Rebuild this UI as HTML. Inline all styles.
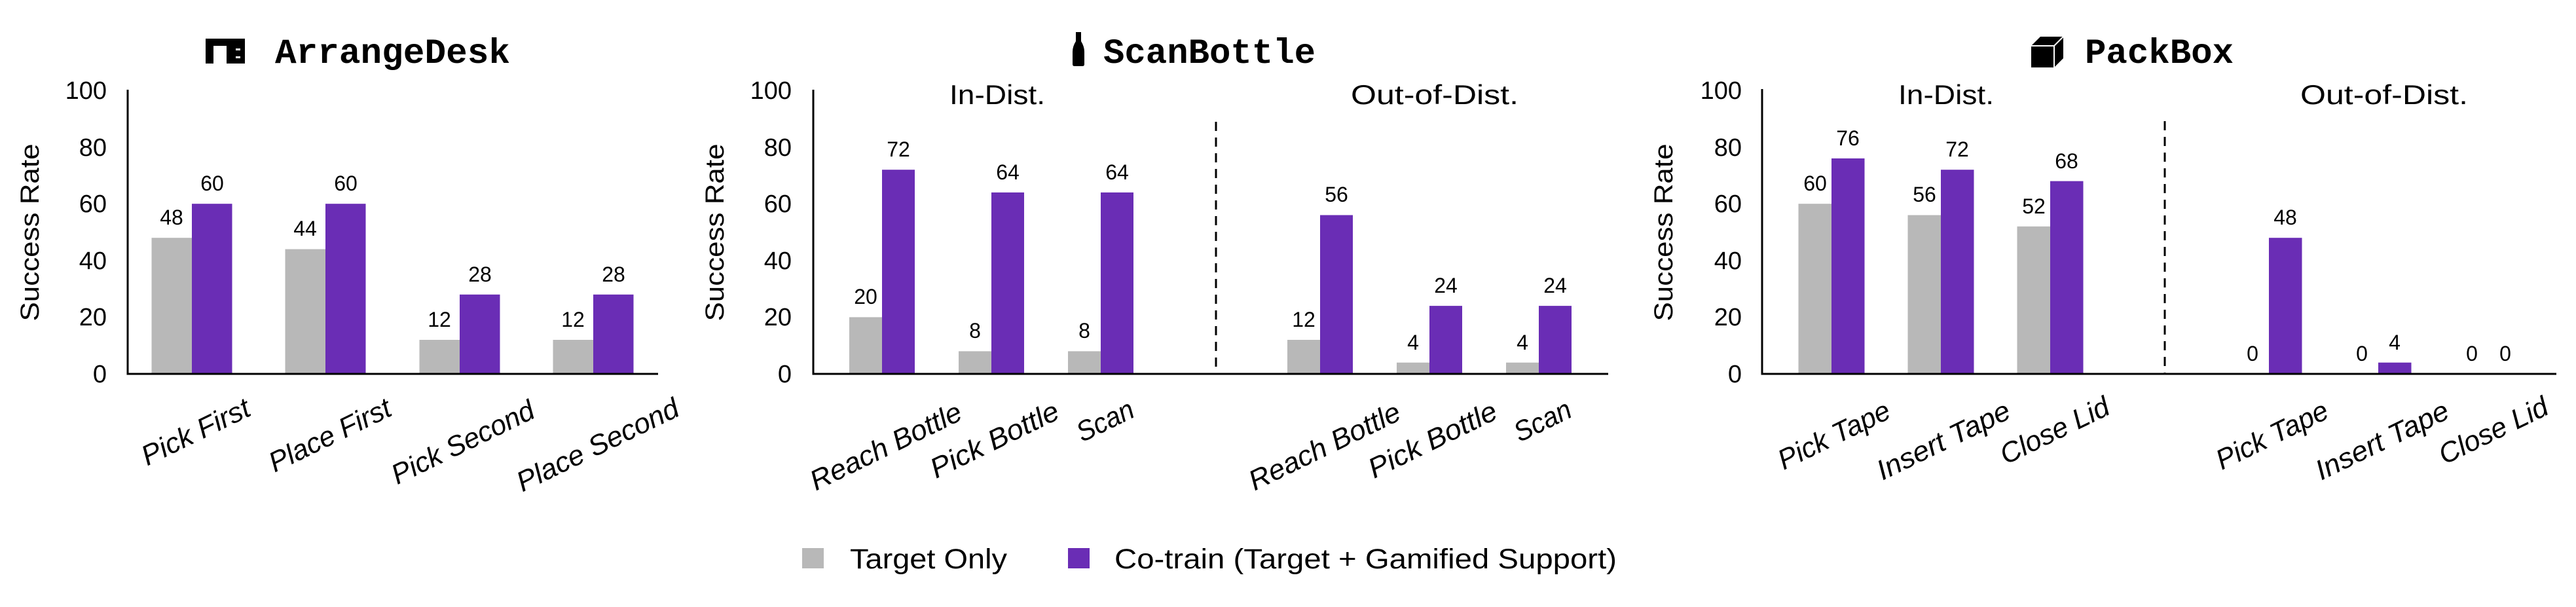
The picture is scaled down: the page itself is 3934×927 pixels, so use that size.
<!DOCTYPE html>
<html><head><meta charset="utf-8"><style>html,body{margin:0;padding:0;background:#fff}svg{display:block}</style></head>
<body>
<svg width="3934" height="927" viewBox="0 0 3934 927" xmlns="http://www.w3.org/2000/svg" font-family="Liberation Sans, sans-serif">
<rect width="3934" height="927" fill="#fff"/>
<!-- ========== Titles ========== -->
<g font-family="Liberation Mono, monospace" font-weight="bold" font-size="54" fill="#000">
<text x="420" y="96" textLength="359" lengthAdjust="spacingAndGlyphs">ArrangeDesk</text>
<text x="1685" y="96" textLength="324" lengthAdjust="spacingAndGlyphs">ScanBottle</text>
<text x="3184" y="96" textLength="227" lengthAdjust="spacingAndGlyphs">PackBox</text>
</g>
<!-- icons -->
<rect x="314" y="59" width="60" height="38" fill="#000"/>
<rect x="326" y="70" width="20" height="27" fill="#fff"/>
<rect x="360" y="74" width="7" height="3" fill="#fff"/>
<rect x="360" y="86" width="7" height="3" fill="#fff"/>
<path d="M1643 49 h8 v14 q5 8 5 16 v19 q0 3 -3 3 h-12 q-3 0 -3 -3 v-19 q0 -8 5 -16z" fill="#000"/>
<polygon points="3102,70 3116,56 3151,56 3151,89 3137,103 3102,103" fill="#000"/>
<polyline points="3102,70 3137,70 3151,56" fill="none" stroke="#fff" stroke-width="2"/>
<line x1="3137" y1="70" x2="3137" y2="103" stroke="#fff" stroke-width="2"/>

<g font-size="38" fill="#000" text-anchor="end">
<text x="163" y="584">0</text><text x="163" y="497">20</text><text x="163" y="411">40</text><text x="163" y="324">60</text><text x="163" y="238">80</text><text x="163" y="151">100</text>
<text x="1209" y="584">0</text><text x="1209" y="497">20</text><text x="1209" y="411">40</text><text x="1209" y="324">60</text><text x="1209" y="238">80</text><text x="1209" y="151">100</text>
<text x="2660" y="584">0</text><text x="2660" y="497">20</text><text x="2660" y="411">40</text><text x="2660" y="324">60</text><text x="2660" y="238">80</text><text x="2660" y="151">100</text>
</g>
<g font-size="40" fill="#000" text-anchor="middle">
<text transform="translate(46,355) rotate(-90)" dominant-baseline="central" textLength="271" lengthAdjust="spacingAndGlyphs">Success Rate</text>
<text transform="translate(1092,355) rotate(-90)" dominant-baseline="central" textLength="271" lengthAdjust="spacingAndGlyphs">Success Rate</text>
<text transform="translate(2541,355) rotate(-90)" dominant-baseline="central" textLength="271" lengthAdjust="spacingAndGlyphs">Success Rate</text>
</g>
<g font-size="42" fill="#000" text-anchor="middle">
<text x="1523" y="159" textLength="146" lengthAdjust="spacingAndGlyphs">In-Dist.</text>
<text x="2191" y="159" textLength="256" lengthAdjust="spacingAndGlyphs">Out-of-Dist.</text>
<text x="2972" y="159" textLength="146" lengthAdjust="spacingAndGlyphs">In-Dist.</text>
<text x="3641" y="159" textLength="256" lengthAdjust="spacingAndGlyphs">Out-of-Dist.</text>
</g>

<g fill="#b8b8b8">
<rect x="231.5" y="363.2" width="61.5" height="207.8"/>
<rect x="435.5" y="380.5" width="61.5" height="190.5"/>
<rect x="640.5" y="519" width="61.5" height="52"/>
<rect x="844.5" y="519" width="61.5" height="52"/>
<rect x="1297" y="484.4" width="50" height="86.6"/>
<rect x="1464" y="536.4" width="50" height="34.6"/>
<rect x="1631" y="536.4" width="50" height="34.6"/>
<rect x="1966" y="519" width="50" height="52"/>
<rect x="2133" y="553.7" width="50" height="17.3"/>
<rect x="2300" y="553.7" width="50" height="17.3"/>
<rect x="2746.5" y="311.2" width="50.5" height="259.8"/>
<rect x="2913.5" y="328.5" width="50.5" height="242.5"/>
<rect x="3080.5" y="345.8" width="50.5" height="225.2"/>
</g>
<g fill="#6a2db5">
<rect x="293" y="311.2" width="61.5" height="259.8"/>
<rect x="497" y="311.2" width="61.5" height="259.8"/>
<rect x="702" y="449.8" width="61.5" height="121.2"/>
<rect x="906" y="449.8" width="61.5" height="121.2"/>
<rect x="1347" y="259.2" width="50" height="311.8"/>
<rect x="1514" y="293.9" width="50" height="277.1"/>
<rect x="1681" y="293.9" width="50" height="277.1"/>
<rect x="2016" y="328.5" width="50" height="242.5"/>
<rect x="2183" y="467.1" width="50" height="103.9"/>
<rect x="2350" y="467.1" width="50" height="103.9"/>
<rect x="2797" y="241.9" width="50.5" height="329.1"/>
<rect x="2964" y="259.2" width="50.5" height="311.8"/>
<rect x="3131" y="276.6" width="50.5" height="294.4"/>
<rect x="3465" y="363.2" width="50.5" height="207.8"/>
<rect x="3632" y="553.7" width="50.5" height="17.3"/>
</g>

<g font-size="32" fill="#000" text-anchor="middle">
<text x="262" y="343">48</text><text x="324" y="291">60</text>
<text x="466" y="360">44</text><text x="528" y="291">60</text>
<text x="671" y="499">12</text><text x="733" y="430">28</text>
<text x="875" y="499">12</text><text x="937" y="430">28</text>
<text x="1322" y="464">20</text><text x="1372" y="239">72</text>
<text x="1489" y="516">8</text><text x="1539" y="274">64</text>
<text x="1656" y="516">8</text><text x="1706" y="274">64</text>
<text x="1991" y="499">12</text><text x="2041" y="308">56</text>
<text x="2158" y="534">4</text><text x="2208" y="447">24</text>
<text x="2325" y="534">4</text><text x="2375" y="447">24</text>
<text x="2772" y="291">60</text><text x="2822" y="222">76</text>
<text x="2939" y="308">56</text><text x="2989" y="239">72</text>
<text x="3106" y="326">52</text><text x="3156" y="257">68</text>
<text x="3440" y="551">0</text><text x="3490" y="343">48</text>
<text x="3607" y="551">0</text><text x="3657" y="534">4</text>
<text x="3775" y="551">0</text><text x="3826" y="551">0</text>
</g>

<g stroke="#000" stroke-width="3" fill="none">
<path d="M195 137 V571 H1005"/>
<path d="M1242 137 V571 H2456"/>
<path d="M2691 136 V571 H3904"/>
</g>
<g stroke="#000" stroke-width="3" stroke-dasharray="14,10">
<line x1="1857" y1="186" x2="1857" y2="571"/>
<line x1="3306" y1="185" x2="3306" y2="571"/>
</g>

<g font-size="43" font-style="italic" fill="#000" text-anchor="middle" dominant-baseline="central">
<text transform="translate(299,660) rotate(-26)" textLength="179" lengthAdjust="spacingAndGlyphs">Pick First</text>
<text transform="translate(504,665) rotate(-26)" textLength="202" lengthAdjust="spacingAndGlyphs">Place First</text>
<text transform="translate(707,676) rotate(-26)" textLength="237" lengthAdjust="spacingAndGlyphs">Pick Second</text>
<text transform="translate(913,680) rotate(-26)" textLength="270" lengthAdjust="spacingAndGlyphs">Place Second</text>
<text transform="translate(1353,682) rotate(-26)" textLength="252" lengthAdjust="spacingAndGlyphs">Reach Bottle</text>
<text transform="translate(1519,672) rotate(-26)" textLength="213" lengthAdjust="spacingAndGlyphs">Pick Bottle</text>
<text transform="translate(1688,643) rotate(-26)" textLength="92" lengthAdjust="spacingAndGlyphs">Scan</text>
<text transform="translate(2023,682) rotate(-26)" textLength="252" lengthAdjust="spacingAndGlyphs">Reach Bottle</text>
<text transform="translate(2188,672) rotate(-26)" textLength="213" lengthAdjust="spacingAndGlyphs">Pick Bottle</text>
<text transform="translate(2356,643) rotate(-26)" textLength="92" lengthAdjust="spacingAndGlyphs">Scan</text>
<text transform="translate(2801,665) rotate(-26)" textLength="185" lengthAdjust="spacingAndGlyphs">Pick Tape</text>
<text transform="translate(2968,673) rotate(-26)" textLength="221" lengthAdjust="spacingAndGlyphs">Insert Tape</text>
<text transform="translate(3138,658) rotate(-26)" textLength="180" lengthAdjust="spacingAndGlyphs">Close Lid</text>
<text transform="translate(3470,665) rotate(-26)" textLength="185" lengthAdjust="spacingAndGlyphs">Pick Tape</text>
<text transform="translate(3638,673) rotate(-26)" textLength="221" lengthAdjust="spacingAndGlyphs">Insert Tape</text>
<text transform="translate(3808,658) rotate(-26)" textLength="180" lengthAdjust="spacingAndGlyphs">Close Lid</text>
</g>

<rect x="1225" y="837" width="33" height="31" fill="#b8b8b8"/>
<text x="1298" y="868" font-size="43" textLength="240" lengthAdjust="spacingAndGlyphs">Target Only</text>
<rect x="1631" y="837" width="33" height="31" fill="#6a2db5"/>
<text x="1702" y="868" font-size="43" textLength="767" lengthAdjust="spacingAndGlyphs">Co-train (Target + Gamified Support)</text>
</svg>
</body></html>
